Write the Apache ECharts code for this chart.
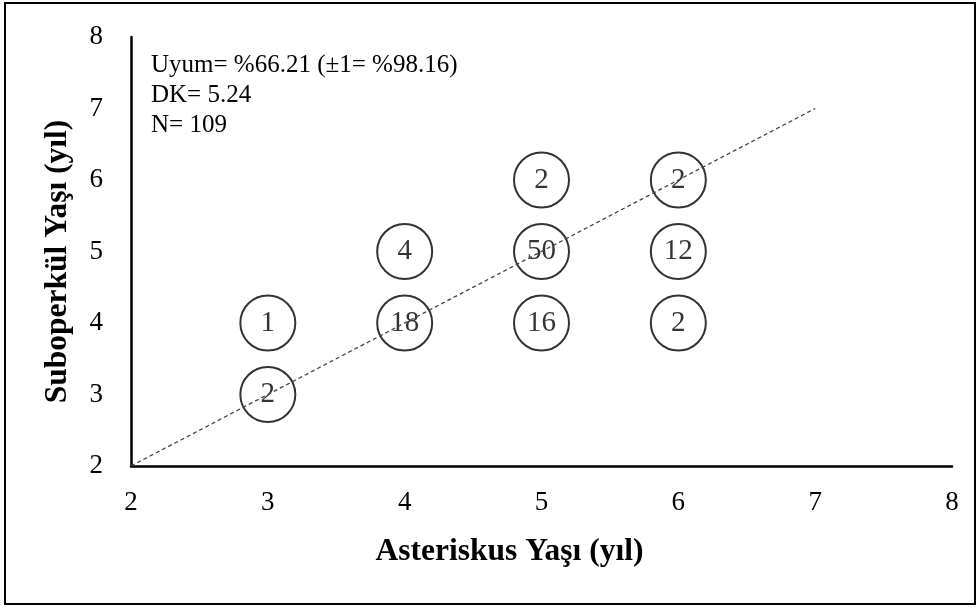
<!DOCTYPE html>
<html><head><meta charset="utf-8">
<script src="https://cdn.jsdelivr.net/npm/echarts@6/dist/echarts.min.js"></script>
<style>html,body{margin:0;padding:0;background:#fff}#c{width:980px;height:607px}</style>
</head><body><div id="c"></div>
<script>
const xTicks = [2, 3, 4, 5, 6, 7, 8];
const yTicks = [2, 3, 4, 5, 6, 7, 8];
const asteriskusAge = [3, 3, 4, 4, 5, 5, 5, 6, 6, 6];
const suboperkulAge = [4, 3, 5, 4, 6, 5, 4, 6, 5, 4];
const counts = [1, 2, 4, 18, 2, 50, 16, 2, 12, 2];
const refLineX = [2, 7];
const refLineY = [2, 7];
const statsLines = ['Uyum= %66.21 (±1= %98.16)', 'DK= 5.24', 'N= 109'];

const font = '"Liberation Serif", "Times New Roman", serif';
const chart = echarts.init(document.getElementById('c'));
chart.setOption({
  animation: false,
  backgroundColor: '#fff',
  grid: { left: 131, right: 28, top: 37, bottom: 141 },
  xAxis: {
    type: 'value', min: xTicks[0], max: xTicks[xTicks.length - 1], interval: 1,
    axisLine: { show: true, lineStyle: { color: '#000', width: 2.5 } },
    axisTick: { show: false }, splitLine: { show: false },
    axisLabel: { color: '#000', fontFamily: font, fontSize: 27, margin: 23 },
    name: 'Asteriskus Yaşı (yıl)', nameLocation: 'middle', nameGap: 70,
    nameTextStyle: { color: '#000', fontFamily: font, fontSize: 31.5, fontWeight: 'bold', padding: [0, 64, 0, 0] }
  },
  yAxis: {
    type: 'value', min: yTicks[0], max: yTicks[yTicks.length - 1], interval: 1,
    axisLine: { show: true, lineStyle: { color: '#000', width: 2.5 } },
    axisTick: { show: false }, splitLine: { show: false },
    axisLabel: { color: '#000', fontFamily: font, fontSize: 27, margin: 28 },
    name: 'Suboperkül Yaşı (yıl)', nameLocation: 'middle', nameGap: 57, nameRotate: 90,
    nameTextStyle: { color: '#000', fontFamily: font, fontSize: 31.5, fontWeight: 'bold', padding: [0, 20, 0, 0] }
  },
  graphic: [
    { type: 'rect', shape: { x: 5, y: 3, width: 970, height: 601 }, style: { fill: 'none', stroke: '#000', lineWidth: 2 }, silent: true },
    { type: 'text', left: 151, top: 50, style: { text: statsLines.join('\n'), fontFamily: font, fontSize: 25, lineHeight: 30, fill: '#000' } }
  ],
  series: [
    {
      type: 'line', data: refLineX.map((x, i) => [x, refLineY[i]]), symbol: 'none',
      lineStyle: { color: '#444', width: 1.3, type: [4, 3] }, z: 3
    },
    {
      type: 'scatter', symbol: 'circle', symbolSize: 55,
      data: asteriskusAge.map((x, i) => [x, suboperkulAge[i], counts[i]]),
      itemStyle: { color: 'rgba(0,0,0,0)', borderColor: '#000', borderWidth: 2 },
      label: { show: true, position: 'inside', formatter: p => p.value[2], color: '#000', fontFamily: font, fontSize: 29 },
      z: 2
    }
  ]
});
</script></body></html>
